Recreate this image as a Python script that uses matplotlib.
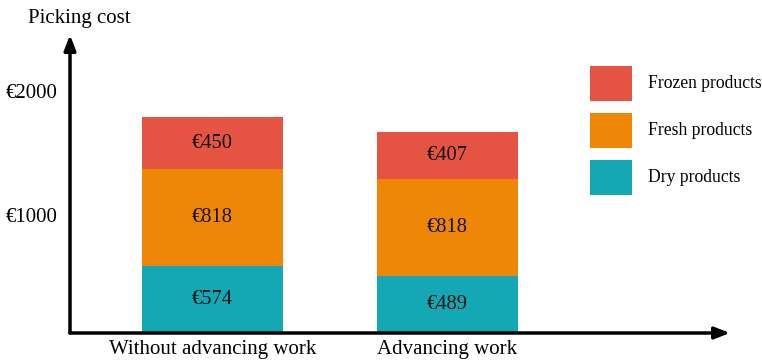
import matplotlib.pyplot as plt
from matplotlib.patches import Rectangle
from matplotlib.transforms import ScaledTranslation
import numpy as np

plt.rcParams['font.family'] = ['Liberation Serif', 'DejaVu Serif']

# Dati
categorie = ["Without advancing work", "Advancing work"]
serie = ["Dry products", "Fresh products", "Frozen products"]
dry = [574, 489]
fresh = [818, 818]
frozen = [450, 407]
colori = ["#14a8b5", "#ee8706", "#e55442"]
yticks = [1000, 2000]
ytick_labels = ["€1000", "€2000"]

W, H = 762, 362
fig = plt.figure(figsize=(W / 100, H / 100), dpi=100)

# Assi in coordinate pixel: origine (70, 333), frecce fino a x=730 e y=35
x0, y0, x1, y1 = 70, 333, 730, 35
ax = fig.add_axes([x0 / W, (H - y0) / H, (x1 - x0) / W, (y0 - y1) / H])
px_per_unit = 0.1175
ax.set_ylim(0, (y0 - y1) / px_per_unit)
centro0, passo = 212.5, 235
ax.set_xlim((x0 - centro0) / passo, (x1 - centro0) / passo)

x = np.arange(len(categorie))
larghezza = 141 / passo
base = np.zeros(len(categorie))
for valori, colore in zip([dry, fresh, frozen], colori):
    ax.bar(x, valori, width=larghezza, bottom=base, color=colore, linewidth=0)
    for xi, b, v in zip(x, base, valori):
        ax.text(xi, b + v / 2, f"€{v}", ha="center", va="center", fontsize=14.8, color="#111111")
    base += np.array(valori)

for s in ax.spines.values():
    s.set_visible(False)

# Frecce degli assi
stile = dict(arrowstyle="-|>,head_length=0.9,head_width=0.35", lw=2.5, color="black", shrinkA=0, shrinkB=0)
ax.annotate("", xy=(1, 0), xytext=(0, 0), xycoords="axes fraction", arrowprops=stile)
ax.annotate("", xy=(0, 1), xytext=(0, 0), xycoords="axes fraction", arrowprops=stile)

ax.set_xticks(x)
ax.set_xticklabels(categorie, fontsize=15)
ax.set_yticks(yticks)
ax.set_yticklabels(ytick_labels, fontsize=15)
ax.tick_params(axis="both", length=0)
ax.tick_params(axis="x", pad=5)
ax.tick_params(axis="y", pad=9)

# l'etichetta €2000 nel riferimento sta un po' piu' in alto
lbl = ax.get_yticklabels()[1]
lbl.set_transform(lbl.get_transform() + ScaledTranslation(0, 7 / 100, fig.dpi_scale_trans))

fig.text(79 / W, 1 - 18 / H, "Picking cost", ha="center", va="center", fontsize=15)

# Legenda manuale
leg_y = [66, 113, 160]
for yy, nome, colore in zip(leg_y, serie[::-1], colori[::-1]):
    fig.add_artist(Rectangle((590 / W, 1 - (yy + 35) / H), 42 / W, 35 / H,
                             transform=fig.transFigure, color=colore, linewidth=0))
    fig.text(648 / W, 1 - (yy + 17.5) / H, nome, ha="left", va="center", fontsize=12.7)

fig.savefig("out.png", dpi=100)
